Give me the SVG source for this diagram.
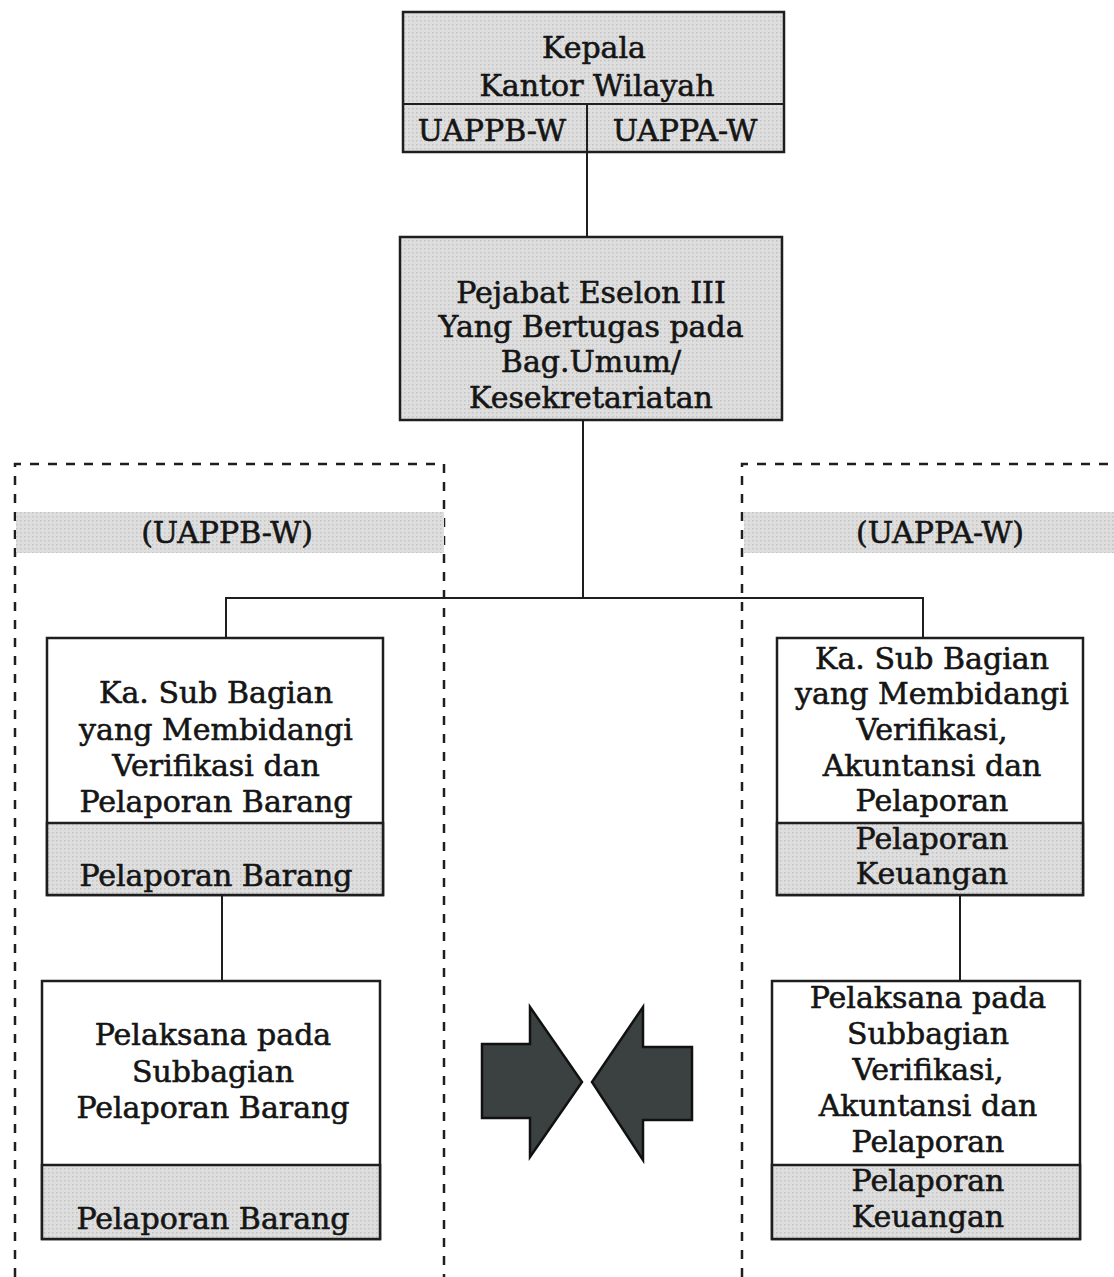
<svg xmlns="http://www.w3.org/2000/svg" width="1114" height="1277" viewBox="0 0 1114 1277">
  <style>
    .box { stroke: #1e1e1e; stroke-width: 2.5; }
    .white { fill: #ffffff; }
    .line { stroke: #1e1e1e; stroke-width: 2; fill: none; }
    .dash { stroke: #1e1e1e; stroke-width: 2.5; fill: none; stroke-dasharray: 9 9; }
    text { font-family: "DejaVu Serif", "Liberation Serif", serif; font-size: 30px; fill: #151515; stroke: #151515; stroke-width: 0.6; text-anchor: middle; dominant-baseline: central; }
    .arrow { fill: #3b4141; stroke: #111; stroke-width: 2.5; stroke-linejoin: miter; }
  </style>
  <defs>
    <pattern id="dots" width="4" height="4" patternUnits="userSpaceOnUse">
      <rect width="4" height="4" fill="#dedede"/>
      <rect x="0" y="0" width="1.5" height="1.5" fill="#c2c2c2"/>
    </pattern>
  </defs>
  <rect width="1114" height="1277" fill="#ffffff"/>

  <!-- dashed unit frames -->
  <g id="frames">
    <path class="dash" d="M15 1277 V464 H444 V1277"/>
    <path class="dash" d="M742 1277 V464 H1114"/>
    <rect x="16" y="512" width="428" height="41" fill="url(#dots)"/>
    <rect x="744" y="512" width="370" height="41" fill="url(#dots)"/>
    <text x="227" y="532">(UAPPB-W)</text>
    <text x="940" y="532">(UAPPA-W)</text>
  </g>

  <!-- connectors -->
  <g id="connectors">
    <line class="line" x1="587" y1="152" x2="587" y2="237"/>
    <line class="line" x1="583" y1="420" x2="583" y2="598"/>
    <path class="line" d="M226 638 V598 H923 V638"/>
    <line class="line" x1="222" y1="895" x2="222" y2="981"/>
    <line class="line" x1="960" y1="895" x2="960" y2="981"/>
  </g>

  <!-- Kepala Kantor Wilayah -->
  <g id="kepala">
    <rect class="box" x="403" y="12" width="381" height="140" fill="url(#dots)"/>
    <line class="line" x1="403" y1="104" x2="784" y2="104"/>
    <line class="line" x1="587" y1="104" x2="587" y2="152"/>
    <text x="594" y="47">Kepala</text>
    <text x="597" y="85">Kantor Wilayah</text>
    <text x="492" y="130">UAPPB-W</text>
    <text x="685" y="130">UAPPA-W</text>
  </g>

  <!-- Pejabat Eselon III -->
  <g id="eselon">
    <rect class="box" x="400" y="237" width="382" height="183" fill="url(#dots)"/>
    <text x="591" y="292">Pejabat Eselon III</text>
    <text x="591" y="326">Yang Bertugas pada</text>
    <text x="591" y="361">Bag.Umum/</text>
    <text x="591" y="397">Kesekretariatan</text>
  </g>

  <!-- Ka. Sub Bagian (barang) -->
  <g id="kasub-barang">
    <rect class="box white" x="47" y="638" width="336" height="257"/>
    <rect class="box" x="47" y="823" width="336" height="72" fill="url(#dots)"/>
    <text x="216" y="692">Ka. Sub Bagian</text>
    <text x="216" y="729">yang Membidangi</text>
    <text x="216" y="765">Verifikasi dan</text>
    <text x="216" y="801">Pelaporan Barang</text>
    <text x="216" y="875">Pelaporan Barang</text>
  </g>

  <!-- Ka. Sub Bagian (keuangan) -->
  <g id="kasub-keuangan">
    <rect class="box white" x="777" y="638" width="306" height="257"/>
    <rect class="box" x="777" y="823" width="306" height="72" fill="url(#dots)"/>
    <text x="932" y="658">Ka. Sub Bagian</text>
    <text x="932" y="693">yang Membidangi</text>
    <text x="932" y="729">Verifikasi,</text>
    <text x="932" y="765">Akuntansi dan</text>
    <text x="932" y="800">Pelaporan</text>
    <text x="932" y="838">Pelaporan</text>
    <text x="932" y="873">Keuangan</text>
  </g>

  <!-- Pelaksana (barang) -->
  <g id="pelaksana-barang">
    <rect class="box white" x="42" y="981" width="338" height="258"/>
    <rect class="box" x="42" y="1165" width="338" height="74" fill="url(#dots)"/>
    <text x="213" y="1034">Pelaksana pada</text>
    <text x="213" y="1071">Subbagian</text>
    <text x="213" y="1107">Pelaporan Barang</text>
    <text x="213" y="1218">Pelaporan Barang</text>
  </g>

  <!-- Pelaksana (keuangan) -->
  <g id="pelaksana-keuangan">
    <rect class="box white" x="772" y="981" width="308" height="258"/>
    <rect class="box" x="772" y="1165" width="308" height="74" fill="url(#dots)"/>
    <text x="928" y="997">Pelaksana pada</text>
    <text x="928" y="1033">Subbagian</text>
    <text x="928" y="1069">Verifikasi,</text>
    <text x="928" y="1105">Akuntansi dan</text>
    <text x="928" y="1141">Pelaporan</text>
    <text x="928" y="1180">Pelaporan</text>
    <text x="928" y="1216">Keuangan</text>
  </g>

  <!-- converging block arrows -->
  <g id="arrows">
    <path class="arrow" d="M482 1044 H530 V1007 L582 1082 L530 1157 V1118 H482 Z"/>
    <path class="arrow" d="M692 1047 H643 V1007 L592 1082 L643 1160 V1120 H692 Z"/>
  </g>
</svg>
